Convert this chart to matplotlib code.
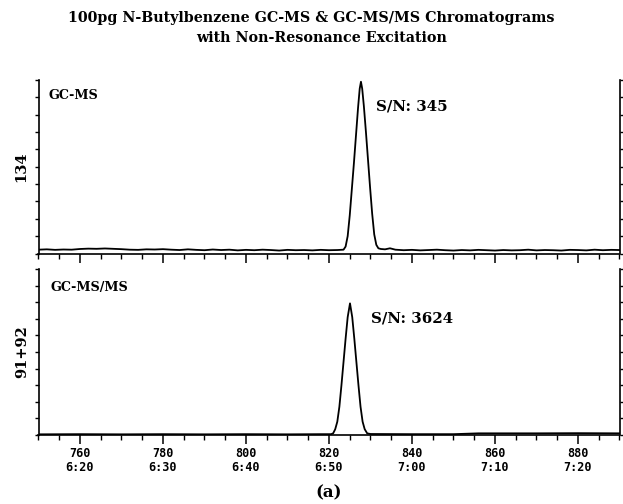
"""GC-MS vs GC-MS/MS chromatograms of 100pg N-butylbenzene."""

import matplotlib

matplotlib.use("Agg")
import matplotlib.pyplot as plt
from matplotlib.ticker import MultipleLocator

# scan numbers and the matching retention times shown under the x axis
tick_scans = [760, 780, 800, 820, 840, 860, 880]
tick_times = ["6:20", "6:30", "6:40", "6:50", "7:00", "7:10", "7:20"]

# GC-MS trace, ion 134 (fraction of full scale)
ms_scan = [750, 752, 754, 756, 758, 760, 762, 764, 766, 768, 770, 772, 774,
           776, 778, 780, 782, 784, 786, 788, 790, 792, 794, 796, 798, 800,
           802, 804, 806, 808, 810, 812, 814, 816, 818, 820, 822, 823.5, 824.0,
           824.5, 825.0, 825.5, 826.0, 826.5, 827.0, 827.4, 827.7, 828.0,
           828.4, 828.9, 829.4, 829.9, 830.4, 830.9, 831.4, 831.9, 832.5,
           833.5, 834.7, 836, 838, 840, 842, 844, 846, 848, 850, 852, 854,
           856, 858, 860, 862, 864, 866, 868, 870, 872, 874, 876, 878, 880,
           882, 884, 886, 888, 890]
ms_int = [0.022, 0.024, 0.021, 0.023, 0.022, 0.026, 0.028, 0.027, 0.029,
          0.027, 0.025, 0.022, 0.021, 0.024, 0.023, 0.025, 0.022, 0.020,
          0.024, 0.021, 0.019, 0.023, 0.020, 0.022, 0.018, 0.021, 0.019,
          0.022, 0.020, 0.017, 0.021, 0.019, 0.020, 0.018, 0.021, 0.019,
          0.020, 0.022, 0.040, 0.10, 0.22, 0.37, 0.52, 0.68, 0.84, 0.95,
          0.99, 0.95, 0.85, 0.70, 0.54, 0.38, 0.23, 0.11, 0.05, 0.03, 0.026,
          0.024, 0.030, 0.022, 0.019, 0.021, 0.018, 0.020, 0.022, 0.019,
          0.017, 0.020, 0.018, 0.021, 0.019, 0.017, 0.020, 0.018, 0.019,
          0.022, 0.018, 0.020, 0.019, 0.017, 0.021, 0.020, 0.018, 0.022,
          0.019, 0.021, 0.020]

# GC-MS/MS trace, ions 91+92
msms_scan = [750, 760, 770, 780, 790, 800, 810, 818, 820.5, 821.0, 821.5,
             822.0, 822.5, 823.0, 823.5, 824.0, 824.5, 825.06, 825.6, 826.1,
             826.6, 827.1, 827.6, 828.1, 828.6, 829.2, 830, 840, 850, 856,
             860, 870, 880, 890]
msms_int = [0.004, 0.005, 0.004, 0.005, 0.004, 0.005, 0.004, 0.005, 0.005,
            0.010, 0.035, 0.08, 0.17, 0.30, 0.44, 0.58, 0.71, 0.793, 0.71,
            0.58, 0.44, 0.30, 0.17, 0.08, 0.035, 0.010, 0.006, 0.005, 0.005,
            0.010, 0.010, 0.010, 0.011, 0.010]

SERIF = "DejaVu Serif"
MONO = "DejaVu Sans Mono"

W, H = 623, 504
fig = plt.figure(figsize=(W / 100, H / 100), dpi=100)

left, right = 38.5 / W, 619.5 / W
ax_ms = fig.add_axes([left, 1 - 253.5 / H, right - left, 173.5 / H])
ax_msms = fig.add_axes([left, 1 - 435 / H, right - left, 166 / H])

for ax, xs, ys in ((ax_ms, ms_scan, ms_int), (ax_msms, msms_scan, msms_int)):
    ax.plot(xs, ys, color="black", lw=1.3)
    ax.set_xlim(750, 890)
    ax.set_ylim(0, 1)
    ax.spines["top"].set_visible(False)
    for side in ("left", "right", "bottom"):
        ax.spines[side].set_linewidth(1.2)
    ax.xaxis.set_minor_locator(MultipleLocator(5))
    ax.set_xticks(tick_scans)
    ax.yaxis.set_major_locator(MultipleLocator(0.1))
    ax.tick_params(axis="x", which="major", direction="out", length=6.5,
                   width=1.1, pad=2)
    ax.tick_params(axis="x", which="minor", direction="out", length=3.5,
                   width=1.0)
    ax.tick_params(axis="y", direction="out", length=3, width=1.0,
                   left=True, right=True, labelleft=False)

ax_ms.tick_params(axis="x", labelbottom=False)
ax_msms.set_xticklabels([f"{s}\n{t}" for s, t in zip(tick_scans, tick_times)],
                        fontfamily=MONO, fontweight="bold", fontsize=8.5,
                        linespacing=1.15)

ax_ms.text(0.0164, 0.913, "GC-MS", transform=ax_ms.transAxes, va="center",
           ha="left", family=SERIF, weight="bold", fontsize=9.2)
ax_ms.text(0.581, 0.850, "S/N: 345", transform=ax_ms.transAxes, va="center",
           ha="left", family=SERIF, weight="bold", fontsize=10.8)
ax_msms.text(0.0198, 0.889, "GC-MS/MS", transform=ax_msms.transAxes,
             va="center", ha="left", family=SERIF, weight="bold", fontsize=9.2)
ax_msms.text(0.572, 0.699, "S/N: 3624", transform=ax_msms.transAxes,
             va="center", ha="left", family=SERIF, weight="bold", fontsize=10.8)

fig.text(21 / W, 1 - 167 / H, "134", rotation=90, ha="center", va="center",
         family=SERIF, weight="bold", fontsize=10.5)
fig.text(22 / W, 1 - 352 / H, "91+92", rotation=90, ha="center", va="center",
         family=SERIF, weight="bold", fontsize=10.5)

fig.text(311 / W, 1 - 18 / H,
         "100pg N-Butylbenzene GC-MS & GC-MS/MS Chromatograms",
         ha="center", va="center", family=SERIF, weight="bold", fontsize=10.3)
fig.text(322 / W, 1 - 38 / H, "with Non-Resonance Excitation",
         ha="center", va="center", family=SERIF, weight="bold", fontsize=10.3)
fig.text(329 / W, 1 - 493 / H, "(a)", ha="center", va="center",
         family=SERIF, weight="bold", fontsize=12)

fig.savefig("out.png", dpi=100)
